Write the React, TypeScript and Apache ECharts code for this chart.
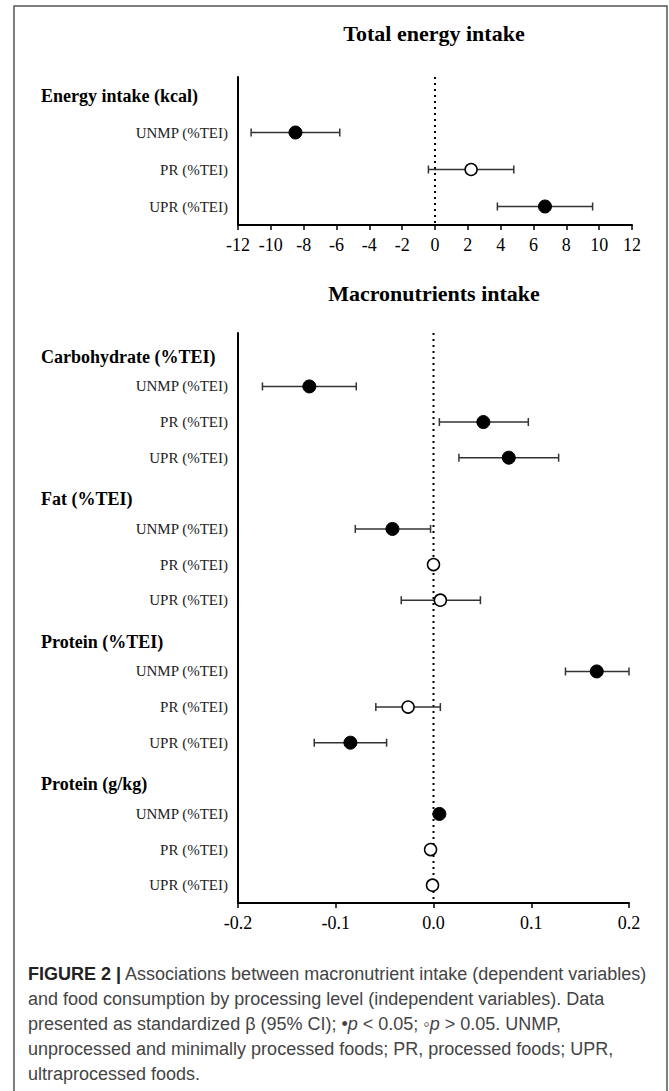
import React, { useEffect, useRef } from "react";
import * as echarts from "echarts";

// ---------- Data ----------
const energyRows = ["Energy intake (kcal)", "UNMP (%TEI)", "PR (%TEI)", "UPR (%TEI)"];
const energyBeta: (number | null)[] = [null, -8.5, 2.2, 6.7];
const energyLow: (number | null)[] = [null, -11.2, -0.4, 3.8];
const energyHigh: (number | null)[] = [null, -5.8, 4.8, 9.6];
const energySig: (boolean | null)[] = [null, true, false, true];
const energyTicks = { min: -12, max: 12, interval: 2 };

const macroRows = [
  "Carbohydrate (%TEI)", "UNMP (%TEI)", "PR (%TEI)", "UPR (%TEI)",
  "Fat (%TEI)", "UNMP (%TEI)", "PR (%TEI)", "UPR (%TEI)",
  "Protein (%TEI)", "UNMP (%TEI)", "PR (%TEI)", "UPR (%TEI)",
  "Protein (g/kg)", "UNMP (%TEI)", "PR (%TEI)", "UPR (%TEI)",
];
const macroBeta: (number | null)[] = [null, -0.127, 0.051, 0.077, null, -0.042, 0.0, 0.007, null, 0.167, -0.026, -0.085, null, 0.006, -0.003, -0.001];
const macroLow: (number | null)[] = [null, -0.175, 0.006, 0.026, null, -0.080, -0.003, -0.033, null, 0.135, -0.059, -0.122, null, 0.003, -0.005, -0.003];
const macroHigh: (number | null)[] = [null, -0.079, 0.097, 0.128, null, -0.003, 0.003, 0.048, null, 0.200, 0.007, -0.048, null, 0.009, -0.001, 0.001];
const macroSig: (boolean | null)[] = [null, true, true, true, null, true, false, false, null, true, false, true, null, true, false, false];
const macroTicks = { min: -0.2, max: 0.2, interval: 0.1 };

const referenceValue = [0];

const titles = ["Total energy intake", "Macronutrients intake"];
const captionLines = [
  "{b|FIGURE 2 |} Associations between macronutrient intake (dependent variables)",
  "and food consumption by processing level (independent variables). Data",
  "presented as standardized β (95% CI); •{i|p} < 0.05; ◦{i|p} > 0.05. UNMP,",
  "unprocessed and minimally processed foods; PR, processed foods; UPR,",
  "ultraprocessed foods.",
];

const SERIF = "'Liberation Serif', 'Times New Roman', serif";
const SANS = "'Liberation Sans', Arial, sans-serif";

function buildPanel(
  gridIndex: number,
  rows: string[],
  beta: (number | null)[],
  low: (number | null)[],
  high: (number | null)[],
  sig: (boolean | null)[],
  ticks: { min: number; max: number; interval: number },
  decimals: number,
  headerPad: number
) {
  const errData: number[][] = [];
  const filled: number[][] = [];
  const open: number[][] = [];
  rows.forEach((_, i) => {
    const b = beta[i];
    if (b === null) return;
    errData.push([i, low[i] as number, high[i] as number]);
    (sig[i] ? filled : open).push([b, i]);
  });

  const xAxis = {
    type: "value",
    gridIndex,
    min: ticks.min,
    max: ticks.max,
    interval: ticks.interval,
    splitLine: { show: false },
    axisLine: { show: true, onZero: false, lineStyle: { color: "#000", width: 2 } },
    axisTick: { show: true, length: 5, lineStyle: { color: "#000", width: 1.5 } },
    axisLabel: {
      color: "#000",
      fontFamily: SERIF,
      fontSize: 18,
      margin: 11,
      formatter: (v: number) => (decimals > 0 ? v.toFixed(decimals) : String(Math.round(v))),
    },
  };

  const yAxis = {
    type: "category",
    gridIndex,
    inverse: true,
    data: rows,
    axisLine: { show: true, onZero: false, lineStyle: { color: "#000", width: 2 } },
    axisTick: { show: false },
    splitLine: { show: false },
    axisLabel: {
      margin: 10,
      interval: 0,
      formatter: (v: string, idx: number) => (beta[idx] === null ? `{h|${v}}` : `{r|${v}}`),
      rich: {
        h: {
          fontFamily: SERIF,
          fontWeight: "bold",
          fontSize: 18,
          color: "#000",
          width: 187,
          align: "left",
          padding: [headerPad, 0, 0, 0],
        },
        r: { fontFamily: SERIF, fontSize: 15, color: "#222" },
      },
    },
  };

  const series = [
    {
      type: "custom",
      xAxisIndex: gridIndex,
      yAxisIndex: gridIndex,
      z: 1,
      silent: true,
      data: referenceValue.map((v) => [v]),
      encode: { x: 0 },
      renderItem: (params: any, api: any) => {
        const cs = params.coordSys;
        const x = api.coord([api.value(0), 0])[0];
        return {
          type: "line",
          shape: { x1: x, y1: cs.y, x2: x, y2: cs.y + cs.height },
          style: { stroke: "#000", lineWidth: 2, lineDash: [2, 4], lineCap: "butt" },
        };
      },
    },
    {
      type: "custom",
      xAxisIndex: gridIndex,
      yAxisIndex: gridIndex,
      z: 2,
      data: errData,
      encode: { x: [1, 2], y: 0 },
      renderItem: (params: any, api: any) => {
        const y = api.value(0);
        const p1 = api.coord([api.value(1), y]);
        const p2 = api.coord([api.value(2), y]);
        const cap = 4;
        const st = { stroke: "#333", lineWidth: 1.5 };
        return {
          type: "group",
          children: [
            { type: "line", shape: { x1: p1[0], y1: p1[1], x2: p2[0], y2: p2[1] }, style: st },
            { type: "line", shape: { x1: p1[0], y1: p1[1] - cap, x2: p1[0], y2: p1[1] + cap }, style: st },
            { type: "line", shape: { x1: p2[0], y1: p2[1] - cap, x2: p2[0], y2: p2[1] + cap }, style: st },
          ],
        };
      },
    },
    {
      type: "scatter",
      xAxisIndex: gridIndex,
      yAxisIndex: gridIndex,
      z: 5,
      symbol: "circle",
      symbolSize: 13,
      itemStyle: { color: "#000", borderColor: "#000", borderWidth: 1, opacity: 1 },
      data: filled,
    },
    {
      type: "scatter",
      xAxisIndex: gridIndex,
      yAxisIndex: gridIndex,
      z: 5,
      symbol: "circle",
      symbolSize: 12,
      itemStyle: { color: "#fff", borderColor: "#000", borderWidth: 1.5, opacity: 1 },
      data: open,
    },
  ];
  return { xAxis, yAxis, series };
}

export default function App() {
  const ref = useRef<HTMLDivElement>(null);
  useEffect(() => {
    if (!ref.current) return;
    const chart = echarts.init(ref.current, undefined, { renderer: "svg" });
    const top = buildPanel(0, energyRows, energyBeta, energyLow, energyHigh, energySig, energyTicks, 0, 0);
    const bot = buildPanel(1, macroRows, macroBeta, macroLow, macroHigh, macroSig, macroTicks, 1, 12);
    chart.setOption({
      animation: false,
      backgroundColor: "#fff",
      grid: [
        { left: 238, top: 77, width: 394, height: 148, containLabel: false },
        { left: 238, top: 333, width: 391, height: 570, containLabel: false },
      ],
      xAxis: [top.xAxis, bot.xAxis],
      yAxis: [top.yAxis, bot.yAxis],
      series: [...top.series, ...bot.series],
      graphic: [
        {
          type: "rect",
          shape: { x: 14, y: 6, width: 653, height: 1200 },
          style: { fill: "none", stroke: "#555", lineWidth: 1.5 },
          silent: true,
        },
        {
          type: "text",
          x: 434,
          y: 33,
          style: {
            text: titles[0],
            fontFamily: SERIF,
            fontWeight: "bold",
            fontSize: 22,
            fill: "#000",
            align: "center",
            verticalAlign: "middle",
            textAlign: "center",
            textVerticalAlign: "middle",
          },
        },
        {
          type: "text",
          x: 434,
          y: 293,
          style: {
            text: titles[1],
            fontFamily: SERIF,
            fontWeight: "bold",
            fontSize: 22,
            fill: "#000",
            align: "center",
            verticalAlign: "middle",
            textAlign: "center",
            textVerticalAlign: "middle",
          },
        },
        {
          type: "text",
          x: 28,
          y: 961,
          style: {
            text: captionLines.join("\n"),
            fontFamily: SANS,
            fontSize: 18,
            lineHeight: 25,
            fill: "#444",
            rich: {
              b: { fontFamily: SANS, fontWeight: "bold", fontSize: 18, lineHeight: 25, fill: "#222" },
              i: { fontFamily: SANS, fontStyle: "italic", fontSize: 18, lineHeight: 25, fill: "#444" },
            },
          },
        },
      ],
    });
    return () => chart.dispose();
  }, []);
  return (
    <div
      ref={ref}
      style={{ position: "absolute", left: 0, top: 0, width: 669, height: 1091, background: "#fff" }}
    />
  );
}
